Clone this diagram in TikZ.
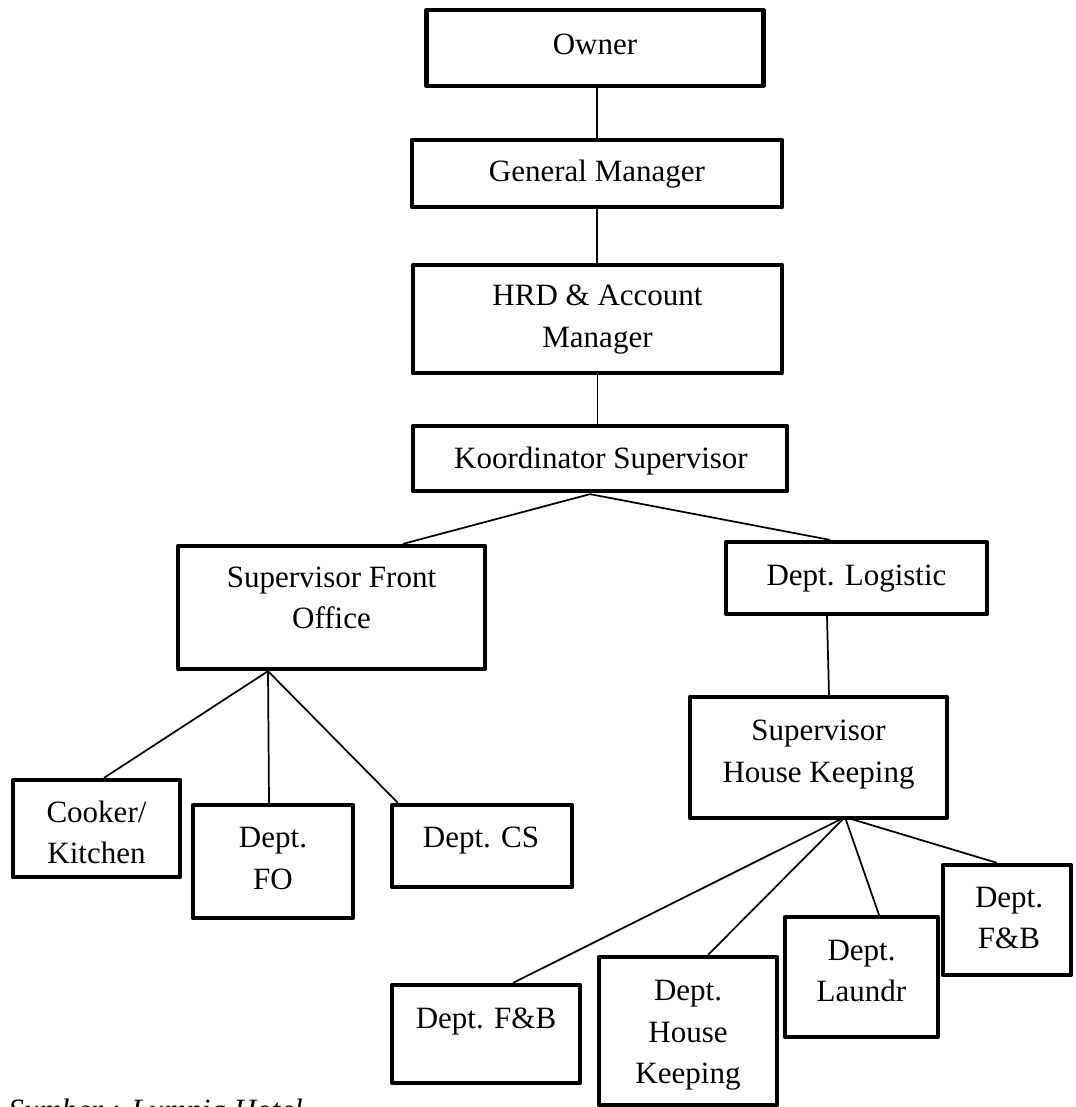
\documentclass[tikz,border=0pt]{standalone}
\usepackage{fontspec}
\setmainfont{Liberation Serif}
\usetikzlibrary{calc}
\tikzset{
  box/.style={draw, line width=3.2pt, line join=round, rectangle, inner sep=0pt},
  txt/.style={anchor=base, inner sep=0pt, font=\fontsize{23.25pt}{31.5pt}\selectfont},
  link/.style={line width=1.3pt},
}
\newcommand{\bx}[6]{\node[box, minimum width=#4*0.75pt, minimum height=#5*0.75pt] (#1) at (#2,#3) {};}
\begin{document}
\begin{tikzpicture}[x=0.75pt, y=-0.75pt]
\useasboundingbox (0,0) rectangle (1075,1107);
% boxes
\bx{owner}{595}{48}{337}{76}{}
\bx{gm}{597}{173.5}{370}{67}{}
\bx{hrd}{597.5}{319}{369}{108}{}
\bx{koord}{600}{458.5}{374}{65}{}
\bx{sfo}{331.5}{607.5}{307}{123}{}
\bx{logi}{856.5}{578}{261}{72}{}
\bx{shk}{818.5}{757.5}{257}{121}{}
\bx{cook}{96.5}{828.5}{167}{97}{}
\bx{fo}{273}{861.5}{160}{113}{}
\bx{cs}{482}{846}{180}{82}{}
\bx{fbl}{486}{1034}{188}{98}{}
\bx{dhk}{688}{1031}{178}{148}{}
\bx{laun}{861.5}{977}{153}{120}{}
\bx{fbr}{1007}{920}{128}{110}{}
% texts
\node[txt] (t-owner) at (595,54) {Owner};
\node[txt] (t-gm) at (597,181) {General Manager};
\node[txt] (t-hrd1) at (597.5,305) {HRD \& Account};
\node[txt] (t-hrd2) at (597.5,347) {Manager};
\node[txt] (t-koord) at (601,468) {Koordinator Supervisor};
\node[txt] (t-sfo1) at (331.5,587) {Supervisor Front};
\node[txt] (t-sfo2) at (331.5,628) {Office};
\node[txt] (t-logi) at (856.5,585) {Dept. Logistic};
\node[txt] (t-shk1) at (818.5,740) {Supervisor};
\node[txt] (t-shk2) at (818.5,782) {House Keeping};
\node[txt] (t-cook1) at (96.5,822) {Cooker/};
\node[txt] (t-cook2) at (96.5,863) {Kitchen};
\node[txt] (t-fo1) at (273,847) {Dept.};
\node[txt] (t-fo2) at (273,889) {FO};
\node[txt] (t-cs) at (481,847) {Dept. CS};
\node[txt] (t-fbl) at (486,1028) {Dept. F\&B};
\node[txt] (t-dhk1) at (688,1000) {Dept.};
\node[txt] (t-dhk2) at (688,1042) {House};
\node[txt] (t-dhk3) at (688,1083) {Keeping};
\node[txt] (t-laun1) at (861.5,960) {Dept.};
\node[txt] (t-laun2) at (861.5,1001) {Laundr};
\node[txt] (t-fbr1) at (1009,907) {Dept.};
\node[txt] (t-fbr2) at (1009,948) {F\&B};
\node[txt, anchor=base west, font=\fontsize{23.25pt}{31.5pt}\selectfont\itshape] (src) at (8,1120) {Sumber : Lumpia Hotel};
% connectors
\draw[link] (owner.south -| gm.north) -- (gm.north);
\draw[link] (gm.south) -- (hrd.north -| gm.south);
\draw[link] (hrd.south) -- (koord.north -| hrd.south);
\coordinate (kfan) at ($(koord.south)+(-10,1)$);
\draw[link] (kfan) -- ($(sfo.north)+(71.5,0)$);
\draw[link] (kfan) -- ($(logi.north)+(-26.5,0)$);
\draw[link] ($(logi.south)+(-29.5,0)$) -- ($(shk.north)+(10.5,0)$);
\coordinate (sfan) at ($(sfo.south)+(-63.5,0)$);
\draw[link] (sfan) -- ($(cook.north)+(7.5,0)$);
\draw[link] (sfan) -- ($(fo.north)+(-4,0)$);
\draw[link] (sfan) -- ($(cs.north west)+(8,0)$);
\coordinate (hfan) at ($(shk.south)+(26.5,-3)$);
\draw[link] (hfan) -- ($(fbl.north)+(27,0)$);
\draw[link] (hfan) -- ($(dhk.north)+(20,0)$);
\draw[link] (hfan) -- ($(laun.north)+(17.5,0)$);
\draw[link] (hfan) -- ($(fbr.north)+(-10,0)$);
\end{tikzpicture}
\end{document}
